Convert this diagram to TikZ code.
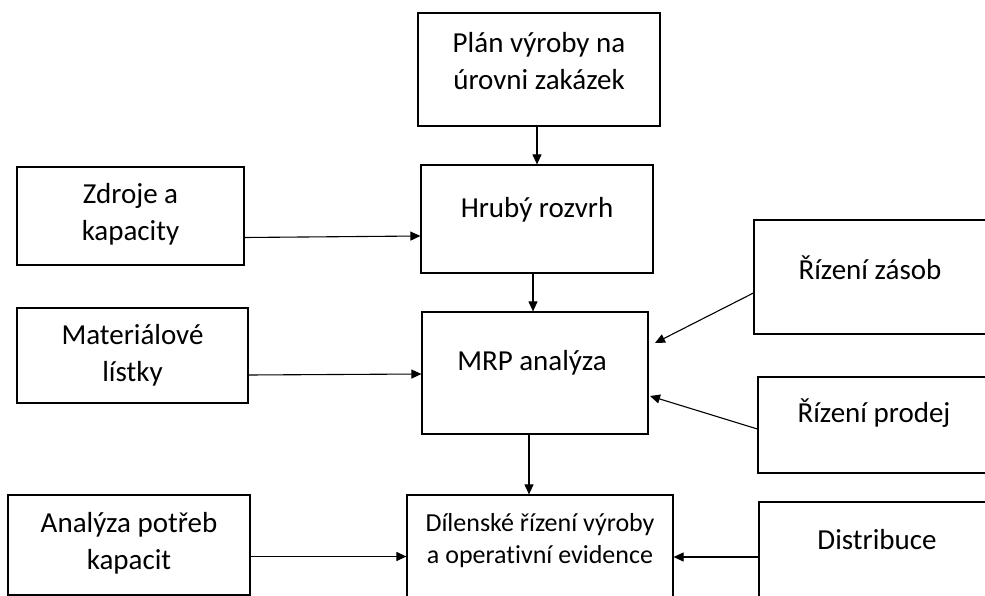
\documentclass[tikz,border=0pt]{standalone}
\usepackage{fontspec}
\setmainfont{Carlito}[Ligatures=NoCommon]
\usetikzlibrary{arrows.meta}

\tikzset{
  box/.style={draw, line width=1.2pt, minimum width=#1, inner sep=0pt},
  txt/.style={align=center, font=\fontsize{29}{37}\selectfont, inner sep=0pt},
  smalltxt/.style={align=center, font=\fontsize{26}{32}\selectfont, inner sep=0pt},
  arr/.style={-{Triangle[length=10pt,width=9pt]}, line width=1.1pt}
}

\begin{document}
\begin{tikzpicture}[x=1pt,y=-1pt]
    \clip (0,0) rectangle (985,596);
    % boxes
    \node[box=242, minimum height=113] (plan) at (539,69.5) {};
    \node[txt] at (539,61.5) {Plán výroby na\\úrovni zakázek};
    \node[box=232, minimum height=108] (hruby) at (537,219) {};
    \node[txt] at (537,210) {Hrubý rozvrh};
    \node[box=226, minimum height=122] (mrp) at (535,373) {};
    \node[txt] at (532,363) {MRP analýza};
    \node[box=266, minimum height=115] (dilen) at (540,552.5) {};
    \node[smalltxt] at (540,541) {Dílenské řízení výroby\\a operativní evidence};
    \node[box=227, minimum height=98] (zdroje) at (130.5,216) {};
    \node[txt] at (130.5,214.5) {Zdroje a\\kapacity};
    \node[box=231, minimum height=95] (mater) at (132.5,355.5) {};
    \node[txt] at (132.5,355.5) {Materiálové\\lístky};
    \node[box=242, minimum height=100] (analyza) at (129,545) {};
    \node[txt] at (129,543.5) {Analýza potřeb\\kapacit};
    \node[box=236, minimum height=114] (zasob) at (872,277) {};
    \node[txt] at (870,268) {Řízení zásob};
    \node[box=232, minimum height=96] (prodej) at (874,425) {};
    \node[txt] at (874,413) {Řízení prodej};
    \node[box=231, minimum height=108] (distrib) at (874.5,556) {};
    \node[txt] at (877,540) {Distribuce};
    % arrows
    \draw[arr] (hruby.north |- plan.south) -- (hruby.north);
    \draw[arr] (533,0 |- hruby.south) -- (533,0 |- mrp.north);
    \draw[arr] (529,0 |- mrp.south) -- (529,0 |- dilen.north);
    \draw[arr] (zdroje.east |- 0,237.5) -- (hruby.west |- 0,236);
    \draw[arr] (mater.east |- 0,375) -- (mrp.west |- 0,374);
    \draw[arr] (analyza.east |- 0,556.5) -- (dilen.west |- 0,556.5);
    \draw[arr] (distrib.west |- 0,557) -- (dilen.east |- 0,557);
    \draw[arr] (zasob.west |- 0,293) -- (655,343);
    \draw[arr] (prodej.west |- 0,429) -- (650,396);
\end{tikzpicture}
\end{document}
